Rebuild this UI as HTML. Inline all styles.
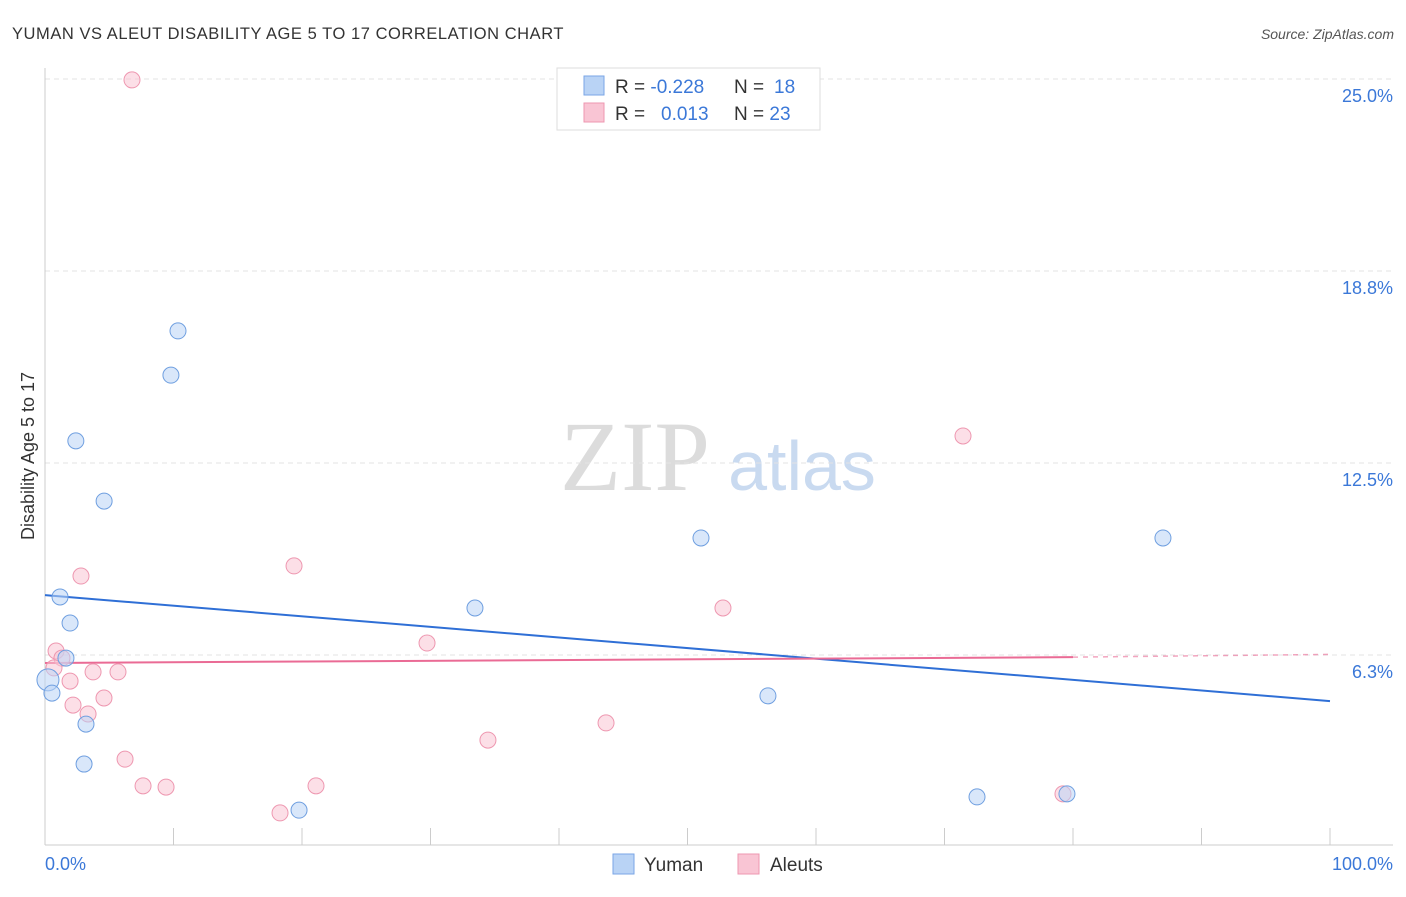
<!DOCTYPE html>
<html><head><meta charset="utf-8">
<style>
body{margin:0;background:#fff;font-family:"Liberation Sans",sans-serif;}
svg text{font-family:"Liberation Sans",sans-serif;}
svg text.serif{font-family:"Liberation Serif",serif;}
</style></head>
<body>
<svg id="chart" width="1406" height="892" xmlns="http://www.w3.org/2000/svg">
<text x="12" y="39" font-size="16.5" fill="#333" letter-spacing="0.55">YUMAN VS ALEUT DISABILITY AGE 5 TO 17 CORRELATION CHART</text>
<text x="1394" y="39" font-size="14" fill="#555" font-style="italic" text-anchor="end">Source: ZipAtlas.com</text>
<g>
<text class="serif" x="635" y="490" font-size="100" fill="#dcdcdc" text-anchor="middle">ZIP</text>
<text x="802" y="490" font-size="70" fill="#c9daf0" text-anchor="middle">atlas</text>
</g>
<g id="grid"></g>
<line x1="45" y1="68" x2="45" y2="845" stroke="#ccc"/>
<line x1="45" y1="845" x2="1393" y2="845" stroke="#ccc"/>
<g id="xticks"></g>
<text x="45" y="870" font-size="18" fill="#3b78d8">0.0%</text>
<text x="1393" y="870" font-size="18" fill="#3b78d8" text-anchor="end">100.0%</text>
<text transform="translate(34,456) rotate(-90)" font-size="18" fill="#333" text-anchor="middle">Disability Age 5 to 17</text>
<g id="lines"></g>
<g id="points"></g>
<g>
<rect x="557" y="68" width="263" height="62" fill="#fff" stroke="#ddd"/>
<rect x="584" y="76" width="20" height="19" fill="#b9d3f5" stroke="#7aa6e6"/>
<rect x="584" y="103" width="20" height="19" fill="#f9c5d4" stroke="#ee97b0"/>
<text x="615" y="93" font-size="19" fill="#333">R = <tspan fill="#3b78d8">-0.228</tspan></text>
<text x="734" y="93" font-size="19" fill="#333">N = <tspan fill="#3b78d8" x="774">18</tspan></text>
<text x="615" y="120" font-size="19" fill="#333">R = <tspan fill="#3b78d8" x="661">0.013</tspan></text>
<text x="734" y="120" font-size="19" fill="#333">N = <tspan fill="#3b78d8">23</tspan></text>
</g>
<g>
<rect x="613" y="854" width="21" height="20" fill="#b9d3f5" stroke="#7aa6e6"/>
<text x="644" y="871" font-size="19" fill="#333">Yuman</text>
<rect x="738" y="854" width="21" height="20" fill="#f9c5d4" stroke="#ee97b0"/>
<text x="770" y="871" font-size="19" fill="#333">Aleuts</text>
</g>
</svg>
<script>
const yTicks=[25.0,18.8,12.5,6.3];
const yTickValues=[25,18.75,12.5,6.25];
const yumanX=[10.35,9.8,2.4,4.6,51.05,87.0,1.17,33.46,1.95,1.63,0.23,0.54,3.19,56.26,3.04,19.77,72.53,79.53];
const yumanY=[16.8,15.36,13.22,11.26,10.06,10.06,8.14,7.78,7.29,6.15,5.44,5.01,4.0,4.92,2.70,1.20,1.63,1.73];
const aleutX=[6.77,2.8,19.38,71.44,52.76,29.73,0.86,1.32,3.74,5.68,1.95,0.7,4.59,2.18,3.35,43.66,34.47,6.23,7.63,9.42,21.09,18.29,79.22];
const aleutY=[24.97,8.82,9.15,13.38,7.78,6.64,6.38,6.15,5.70,5.70,5.40,5.83,4.85,4.62,4.33,4.04,3.48,2.86,1.99,1.95,1.99,1.11,1.73];
const yumanTrend=[8.2,4.75];
const aleutTrend=[5.99,6.18,6.27];
const NS="http://www.w3.org/2000/svg";
const xs=v=>45+v*12.85;
const ys=v=>847-v*30.72;
function mk(t,a,p){const e=document.createElementNS(NS,t);for(const k in a)e.setAttribute(k,a[k]);document.getElementById(p).appendChild(e);return e;}
yTickValues.forEach((v,i)=>{
  const l=mk('line',{x1:45,x2:1393,y1:ys(v),y2:ys(v),stroke:'#e3e3e3','stroke-dasharray':'5,4'},'grid');
  
  
  const t=mk('text',{x:1393,y:ys(v)+23,'font-size':18,fill:'#3b78d8','text-anchor':'end'},'grid');
  t.textContent=yTicks[i].toFixed(1)+'%';
  
  
});
for(let i=0;i<=10;i++){
  const l=mk('line',{x1:xs(i*10),x2:xs(i*10),y1:828,y2:845,stroke:'#ccc'},'xticks');
  
  
}
let l1=mk('line',{x1:xs(0),y1:ys(yumanTrend[0]),x2:xs(100),y2:ys(yumanTrend[1]),stroke:'#2f6fd6','stroke-width':2},'lines');


let l2=mk('line',{x1:xs(0),y1:ys(aleutTrend[0]),x2:xs(80),y2:ys(aleutTrend[1]),stroke:'#ea6b95','stroke-width':2},'lines');


let l3=mk('line',{x1:xs(80),y1:ys(aleutTrend[1]),x2:xs(100),y2:ys(aleutTrend[2]),stroke:'#ea6b95','stroke-width':1.5,'stroke-dasharray':'5,5',opacity:0.6},'lines');


aleutX.forEach((x,i)=>{
  const c=mk('circle',{cx:xs(x),cy:ys(aleutY[i]),r:8,fill:'rgba(249,197,212,0.55)',stroke:'#ee97b0','stroke-width':1},'points');
  
  
});
yumanX.forEach((x,i)=>{
  const c=mk('circle',{cx:xs(x),cy:ys(yumanY[i]),r:(i==10?11:8),fill:'rgba(185,211,245,0.55)',stroke:'#6f9fe0','stroke-width':1},'points');
  
  
});
</script>
</body></html>
